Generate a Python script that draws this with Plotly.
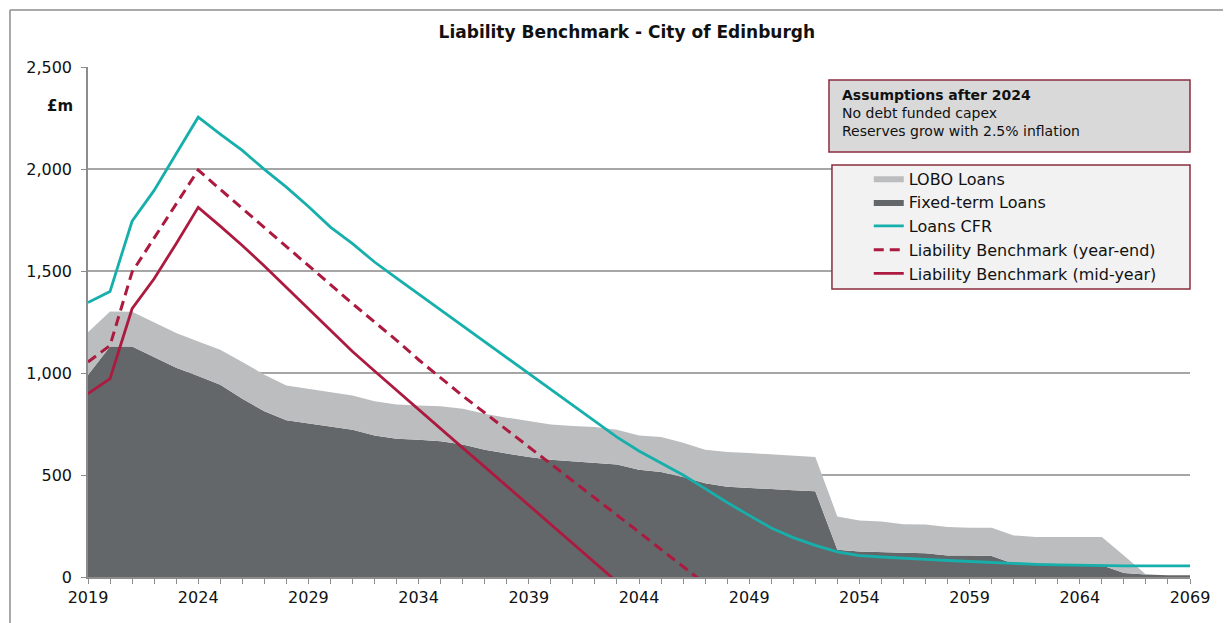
import plotly.graph_objects as go

# years shown on the x axis
years = list(range(2019, 2070))

# £m
fixed_term = [990, 1130, 1130, 1078, 1026, 985, 943, 874, 812, 768,
              752, 735, 722, 694, 678, 673, 665, 650, 624, 605,
              588, 575, 567, 559, 551, 526, 515, 490, 459, 443,
              436, 430, 425, 420, 133, 125, 121, 119, 117, 106,
              105, 103, 65, 62, 62, 60, 57, 20, 12, 8, 8]
lobo = [210, 172, 170, 172, 170, 170, 171, 180, 180, 171,
        171, 172, 168, 168, 168, 168, 172, 175, 176, 176,
        177, 172, 173, 176, 171, 168, 171, 168, 165, 170,
        172, 171, 169, 168, 164, 152, 151, 139, 140, 139,
        137, 139, 139, 134, 134, 136, 139, 85, 0, 0, 0]
loans_cfr = [1345, 1400, 1744, 1895, 2075, 2254, 2171, 2091, 1998, 1911,
             1816, 1715, 1634, 1544, 1465, 1387, 1309, 1231, 1152, 1075,
             1000, 921, 843, 765, 686, 618, 560, 500, 433, 365,
             302, 240, 193, 155, 123, 105, 98, 91, 86, 81,
             76, 71, 65, 62, 59, 57, 56, 55, 55, 55, 55]
lb_year_end = [1054, 1135, 1495, 1660, 1830, 1995, 1900, 1806, 1712, 1618,
               1524, 1430, 1340, 1250, 1160, 1065, 975, 888, 805, 722,
               638, 555, 471, 388, 304, 220, 135, 51, -33]
lb_mid_year = [899, 972, 1315, 1462, 1634, 1812, 1720, 1625, 1525, 1420,
               1320, 1210, 1105, 1010, 915, 821, 727, 633, 540, 446,
               352, 258, 164, 70, -24]

x_ticks = list(range(2019, 2070, 5))
assumptions = ['<b>Assumptions after 2024</b>',
               'No debt funded capex',
               'Reserves grow with 2.5% inflation']

DARK_GREY = '#646769'
LIGHT_GREY = '#bcbdbf'
TEAL = '#17afab'
CRIMSON = '#ad1a3f'
BOX_EDGE = '#8b2e3c'
AXIS_GREY = '#8c8c8c'
INK = '#111111'
FONT = 'DejaVu Sans'

fig = go.Figure()

fig.add_trace(go.Scatter(
    x=years, y=fixed_term, name='Fixed-term Loans', mode='lines',
    stackgroup='loans', line=dict(width=0, color=DARK_GREY),
    fillcolor=DARK_GREY, legendrank=2, legendgroup='b',
))
fig.add_trace(go.Scatter(
    x=years, y=lobo, name='LOBO Loans', mode='lines',
    stackgroup='loans', line=dict(width=0, color=LIGHT_GREY),
    fillcolor=LIGHT_GREY, legendrank=1, legendgroup='a',
))
fig.add_trace(go.Scatter(
    x=years, y=loans_cfr, name='Loans CFR', mode='lines',
    line=dict(color=TEAL, width=2.8), legendrank=3, legendgroup='c',
))
fig.add_trace(go.Scatter(
    x=years[:len(lb_year_end)], y=lb_year_end,
    name='Liability Benchmark (year-end)', mode='lines',
    line=dict(color=CRIMSON, width=3, dash='10px,6px'),
    legendrank=4, legendgroup='d',
))
fig.add_trace(go.Scatter(
    x=years[:len(lb_mid_year)], y=lb_mid_year,
    name='Liability Benchmark (mid-year)', mode='lines',
    line=dict(color=CRIMSON, width=2.8), legendrank=5, legendgroup='e',
))

# boxes behind the note and the legend, plus the outer frame lines
fig.add_shape(type='rect', xref='paper', yref='paper',
              x0=0.6724, x1=1.0, y0=0.8333, y1=0.9745,
              fillcolor='#d9d9d9', line=dict(color=BOX_EDGE, width=1.5), layer='above')
fig.add_shape(type='rect', xref='paper', yref='paper',
              x0=0.6751, x1=1.0, y0=0.5645, y1=0.8078,
              fillcolor='#f2f2f2', line=dict(color=BOX_EDGE, width=1.5), layer='above')
fig.add_shape(type='line', xref='paper', yref='paper',
              x0=-0.0708, x1=-0.0708, y0=-0.1, y1=1.112,
              line=dict(color=AXIS_GREY, width=1.5))
fig.add_shape(type='line', xref='paper', yref='paper',
              x0=-0.0708, x1=1.05, y0=1.112, y1=1.112,
              line=dict(color=AXIS_GREY, width=1.5))

fig.add_annotation(
    text='<br>'.join(assumptions), xref='paper', yref='paper',
    x=0.682, y=0.964, xanchor='left', yanchor='top', align='left',
    showarrow=False, font=dict(family=FONT, size=14, color=INK),
)
fig.add_annotation(
    text='<b>£m</b>', xref='paper', yref='paper', x=-0.039, y=0.945,
    showarrow=False, font=dict(family=FONT, size=15, color=INK),
)

# the page body has an 8px margin, so the figure is 8px smaller on each side
fig.update_layout(
    title=dict(
        text='<b>Liability Benchmark - City of Edinburgh</b>',
        x=0.506, xanchor='center', y=0.961, yanchor='middle',
        font=dict(family=FONT, size=17, color=INK),
    ),
    width=1223, height=615,
    margin=dict(l=80, r=41, t=59, b=46),
    plot_bgcolor='white', paper_bgcolor='white',
    font=dict(family=FONT, color=INK),
    showlegend=True,
    legend=dict(
        x=0.7085, xanchor='left', y=0.815, yanchor='top',
        bgcolor='rgba(0,0,0,0)', borderwidth=0,
        font=dict(family=FONT, size=16, color=INK),
        tracegroupgap=7, traceorder='normal',
    ),
    hovermode=False,
)

fig.update_xaxes(
    range=[2019, 2069], tickvals=x_ticks,
    showgrid=False, zeroline=False,
    showline=True, linecolor=AXIS_GREY, linewidth=1.5,
    ticks='outside', ticklen=5, tickcolor=AXIS_GREY,
    minor=dict(ticks='outside', dtick=1, ticklen=5, tickcolor=AXIS_GREY),
    tickfont=dict(family=FONT, size=16, color=INK),
)
fig.update_yaxes(
    range=[0, 2500], dtick=500, tickformat=',',
    showgrid=True, gridcolor='#a6a6a6', gridwidth=1.5, zeroline=False,
    showline=True, linecolor=AXIS_GREY, linewidth=1.5,
    ticks='outside', ticklen=5, tickcolor=AXIS_GREY,
    ticklabelstandoff=6,
    tickfont=dict(family=FONT, size=16, color=INK),
)

fig.write_html('out.html')
